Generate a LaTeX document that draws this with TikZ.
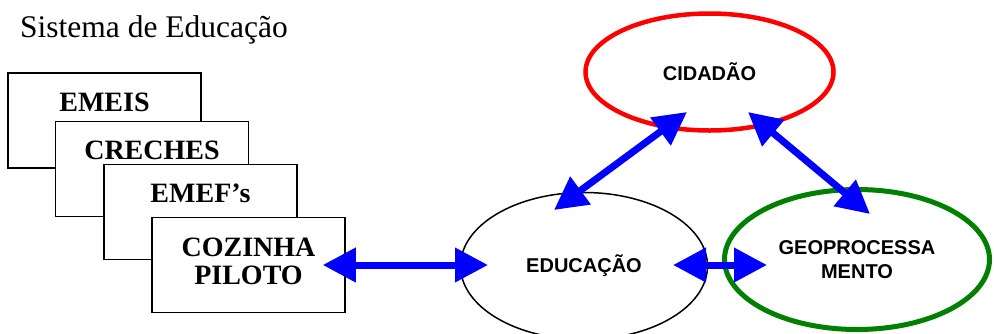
\documentclass[tikz,border=0pt]{standalone}
\usepackage{fontspec}
\setmainfont{Liberation Serif}
\newfontfamily\elipsefont{Liberation Sans}
\usetikzlibrary{arrows.meta,shapes.geometric,positioning}
\definecolor{verde}{RGB}{0,128,0}
\begin{document}
\begin{tikzpicture}[x=1pt,y=-1pt]
    \tikzset{
        escola/.style={draw,line width=1.5pt,fill=white,minimum width=193pt,minimum height=95pt,inner sep=0pt},
        escolatexto/.style={anchor=base,inner sep=0pt,align=center,font=\fontsize{28pt}{28pt}\selectfont\bfseries},
        elipse/.style={ellipse,draw,inner sep=0pt,align=center,font=\elipsefont\fontsize{20pt}{24pt}\selectfont\bfseries},
        seta/.style={draw=blue,line width=7pt,{Triangle[length=33pt,width=33pt]}-{Triangle[length=33pt,width=33pt]}},
    }
    \useasboundingbox (0,0) rectangle (994,333);
    \node[anchor=base west,inner sep=0pt,font=\fontsize{31.5pt}{31.5pt}\selectfont] (titulo) at (20,37) {Sistema de Educação};
    % caixas
    \node[escola] (emeis) at (104.5,120.5) {};
    \node[escolatexto] at ([yshift=-39pt]emeis.north) {EMEIS};
    \node[escola] (creches) at (152,169) {};
    \node[escolatexto] at ([yshift=-39pt]creches.north) {CRECHES};
    \node[escola] (emefs) at (200.5,212) {};
    \node[escolatexto] at ([yshift=-39pt]emefs.north) {EMEF’s};
    \node[escola] (cozinha) at (248.5,265) {};
    \node[escolatexto] at ([yshift=-68pt]cozinha.north) {COZINHA\\PILOTO};
    % elipses
    \node[elipse,draw=red,line width=4.5pt,minimum width=248pt,minimum height=117pt] (cidadao) at (709.5,72) {CIDADÃO};
    \node[elipse,line width=1.5pt,minimum width=247pt,minimum height=147pt] (educacao) at (584,266) {EDUCAÇÃO};
    \node[elipse,draw=verde,line width=5pt,minimum width=265pt,minimum height=140pt] (geo) at (857,259.5) {GEOPROCESSA\\MENTO};
    % pontas das setas
    \coordinate (cozinhaE) at ([xshift=-23pt]cozinha.east);
    \coordinate (educacaoW) at ([shift={(-96,-1)}]educacao.center);
    \coordinate (educacaoE) at ([shift={(89,-1)}]educacao.center);
    \coordinate (geoW) at ([shift={(-90,5.5)}]geo.center);
    \coordinate (educacaoN) at ([shift={(-30,-56)}]educacao.center);
    \coordinate (cidadaoSW) at ([shift={(-22.5,40)}]cidadao.center);
    \coordinate (cidadaoSE) at ([shift={(38.5,40)}]cidadao.center);
    \coordinate (geoN) at ([shift={(13,-45.5)}]geo.center);
    \draw[seta] (cozinhaE) -- (educacaoW);
    \draw[seta] (educacaoE) -- (geoW);
    \draw[seta] (educacaoN) -- (cidadaoSW);
    \draw[seta] (cidadaoSE) -- (geoN);
\end{tikzpicture}
\end{document}
